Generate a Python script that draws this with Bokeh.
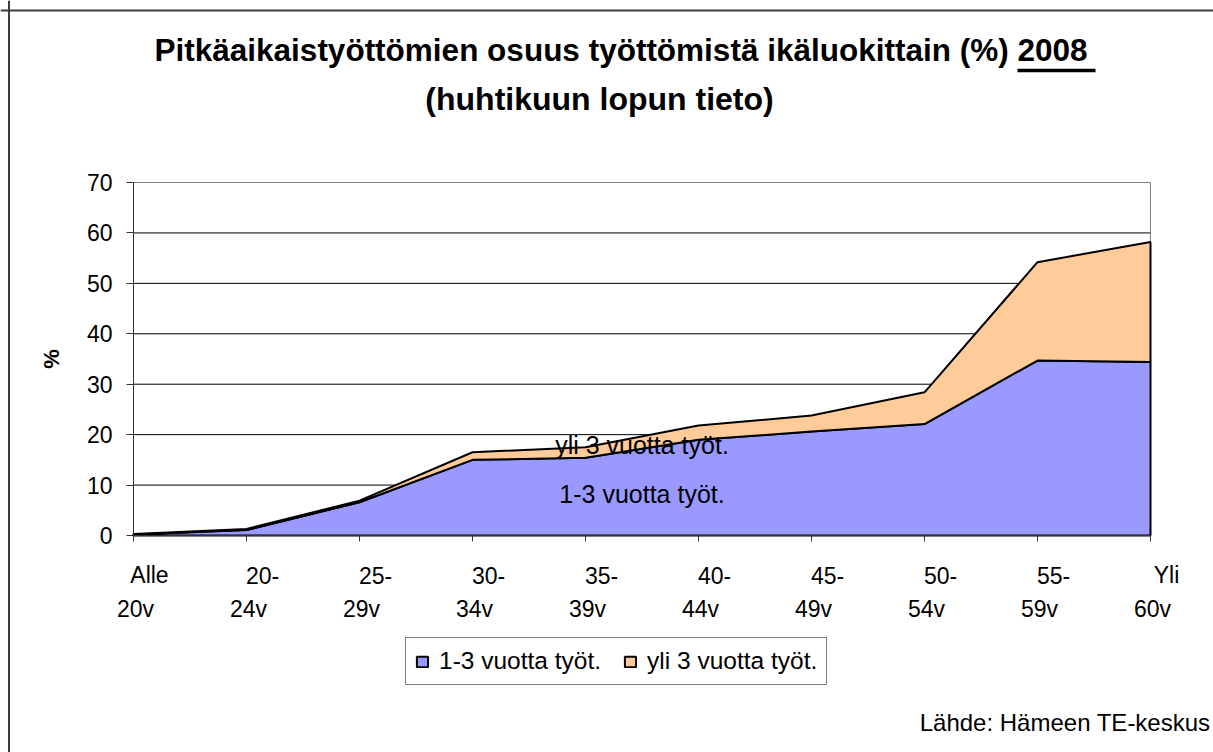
from bokeh.plotting import figure
from bokeh.models import (Range1d, FixedTicker, Label, LabelSet, Legend, LegendItem,
                          Arrow, Span, ColumnDataSource)
from bokeh.core.properties import value
from bokeh.embed import file_html
from bokeh.resources import INLINE

# ---- data ----
cat_line1 = ["Alle", "20-", "25-", "30-", "35-", "40-", "45-", "50-", "55-", "Yli"]
cat_line2 = ["20v", "24v", "29v", "34v", "39v", "44v", "49v", "54v", "59v", "60v"]
vuotta_1_3 = [0.2, 1.1, 6.6, 15.0, 15.4, 19.0, 20.6, 22.1, 34.7, 34.4]
yli_3 = [0.1, 0.2, 0.3, 1.5, 2.1, 2.8, 3.2, 6.3, 19.5, 23.8]
y_ticks = [0, 10, 20, 30, 40, 50, 60, 70]
series_names = ["1-3 vuotta työt.", "yli 3 vuotta työt."]
title_line1 = "Pitkäaikaistyöttömien osuus työttömistä ikäluokittain (%) 2008"
title_line2 = "(huhtikuun lopun tieto)"
source_text = "Lähde: Hämeen TE-keskus"

FONT = "Liberation Sans"
W, H = 1213, 752
# plot area on the page (pixels)
PL, PR, PT, PB = 133, 1150, 182, 535
NX = len(cat_line1) - 1
YMAX = y_ticks[-1]
UX = (PR - PL) / NX
UY = (PB - PT) / YMAX


def xd(px):
    return (px - PL) / UX


def yd(py):
    return (PB - py) / UY


p = figure(width=W, height=H, output_backend="svg", toolbar_location=None,
           x_range=Range1d(xd(0), xd(W)), y_range=Range1d(yd(H), yd(0)),
           min_border=0)
p.background_fill_color = "white"
p.border_fill_color = "white"
p.outline_line_color = None
p.xgrid.visible = False
p.ygrid.visible = False

xs = list(range(len(vuotta_1_3)))
total = [a + b for a, b in zip(vuotta_1_3, yli_3)]

# horizontal grid lines and plot-area border (behind the areas)
grid_y = y_ticks[1:-1]
p.segment(x0=0, y0=grid_y, x1=NX, y1=grid_y, line_color="black", line_width=1)
p.segment(x0=[0, NX], y0=[YMAX, 0], x1=[NX, NX], y1=[YMAX, YMAX],
          line_color="#808080", line_width=1)

r1 = p.patch(xs + xs[::-1], vuotta_1_3 + [0] * len(xs),
             fill_color="#9999FF", line_color="black", line_width=2)
r2 = p.patch(xs + xs[::-1], total + vuotta_1_3[::-1],
             fill_color="#FFCC99", line_color="black", line_width=2)

# axes drawn at the data origin
p.xaxis.fixed_location = 0
p.xaxis.bounds = (0, NX)
p.xaxis.ticker = FixedTicker(ticks=xs)
p.xaxis.major_label_overrides = {i: "" for i in xs}
p.xaxis.major_tick_out = 6
p.xaxis.major_tick_in = 0
p.xaxis.minor_tick_line_color = None
p.xaxis.axis_line_color = "#333333"
p.xaxis.major_tick_line_color = "#333333"

p.yaxis.fixed_location = 0
p.yaxis.bounds = (0, YMAX)
p.yaxis.ticker = FixedTicker(ticks=y_ticks)
p.yaxis.major_tick_out = 7
p.yaxis.major_tick_in = 0
p.yaxis.minor_tick_line_color = None
p.yaxis.axis_line_color = "#333333"
p.yaxis.major_tick_line_color = "#333333"
p.yaxis.major_label_text_font = FONT
p.yaxis.major_label_text_font_size = "23px"
p.yaxis.major_label_text_color = "black"
p.yaxis.major_label_standoff = 14
p.yaxis.axis_label = "%"
p.yaxis.axis_label_text_font = FONT
p.yaxis.axis_label_text_font_style = "bold"
p.yaxis.axis_label_text_font_size = "22px"
p.yaxis.axis_label_text_color = "black"
p.yaxis.axis_label_standoff = 20

# category labels (two lines) under the ticks
cats = ColumnDataSource(dict(x=xs, l1=cat_line1, l2=cat_line2))
p.add_layout(LabelSet(source=cats, x="x", y=yd(574.5), text="l1", x_offset=16,
                      text_align="center", text_baseline="middle",
                      text_font=value(FONT), text_font_size=value("23px"),
                      text_color="black"))
p.add_layout(LabelSet(source=cats, x="x", y=yd(608), text="l2", x_offset=2,
                      text_align="center", text_baseline="middle",
                      text_font=value(FONT), text_font_size=value("23px"),
                      text_color="black"))

# in-chart series labels
p.add_layout(Label(x=4.5, y=18.0, text=series_names[1], text_align="center",
                   text_baseline="middle", text_font=FONT, text_font_size="25px",
                   text_color="black"))
p.add_layout(Label(x=4.5, y=8.2, text=series_names[0], text_align="center",
                   text_baseline="middle", text_font=FONT, text_font_size="25px",
                   text_color="black"))

# title
p.add_layout(Label(x=xd(1087), y=yd(49.5), text=title_line1, text_align="right",
                   text_baseline="alphabetic", text_font=FONT, text_font_style="bold",
                   text_font_size="31.5px", text_color="black"))
p.add_layout(Label(x=xd(599), y=yd(98), text=title_line2, text_align="center",
                   text_baseline="alphabetic", text_font=FONT, text_font_style="bold",
                   text_font_size="32px", text_color="black"))
p.add_layout(Arrow(end=None, x_start=xd(1017), y_start=yd(70), x_end=xd(1095),
                   y_end=yd(70), line_color="black", line_width=3.5))

# source note
p.add_layout(Label(x=xd(1210), y=yd(722), text=source_text, text_align="right",
                   text_baseline="middle", text_font=FONT, text_font_size="24px",
                   text_color="black"))

# chart border (left and top)
p.add_layout(Span(location=xd(8.5), dimension="height", line_color="#3c3c3c", line_width=2))
p.add_layout(Span(location=yd(10), dimension="width", line_color="#3c3c3c", line_width=2))

# legend
legend = Legend(items=[LegendItem(label=series_names[0], renderers=[r1]),
                       LegendItem(label=series_names[1], renderers=[r2])],
                orientation="horizontal", location=(405, H - 685))
legend.glyph_width = 14
legend.glyph_height = 13
legend.label_standoff = 10
legend.spacing = 22
legend.padding = 9
legend.margin = 0
legend.label_text_font = FONT
legend.label_text_font_size = "24.5px"
legend.label_text_color = "black"
legend.border_line_color = "black"
legend.border_line_width = 1
legend.background_fill_color = "white"
legend.background_fill_alpha = 1
p.add_layout(legend)

open("out.html", "w").write(file_html(p, INLINE))
